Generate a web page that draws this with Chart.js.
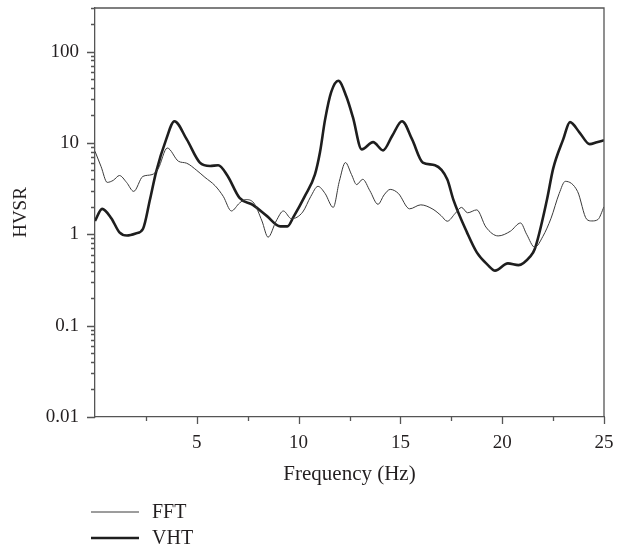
<!DOCTYPE html>
<html>
<head>
<meta charset="utf-8">
<script src="https://cdn.jsdelivr.net/npm/chart.js@4/dist/chart.umd.min.js"></script>
<style>
    html, body { margin: 0; padding: 0; background: #fff; }
    #wrap { width: 624px; height: 554px; }
</style>
</head>
<body>
<div id="wrap"><canvas id="graficoHvsr" width="624" height="554"></canvas></div>
<script>
// datos
const FFT_FREQ = [0, 0.3, 0.6, 0.9, 1.2, 1.55, 1.9, 2.35, 2.8, 3.1, 3.55, 4.1, 4.5, 5.0, 5.4, 5.9, 6.3, 6.7, 7.1, 7.4, 7.8, 8.2, 8.5, 8.9, 9.25, 9.65, 10.2, 10.6, 10.95, 11.3, 11.7, 12.0, 12.3, 12.6, 12.85, 13.15, 13.5, 13.9, 14.2, 14.5, 14.9, 15.45, 16.0, 16.6, 17.0, 17.3, 17.7, 18.0, 18.3, 18.75, 19.2, 19.8, 20.4, 20.9, 21.2, 21.6, 22.0, 22.4, 22.8, 23.1, 23.7, 24.15, 24.4, 24.7, 25.0];
const FFT_HVSR = [8.1, 5.5, 3.7, 3.9, 4.4, 3.7, 2.95, 4.3, 4.5, 5.2, 8.8, 6.3, 6.0, 5.0, 4.2, 3.4, 2.6, 1.8, 2.2, 2.4, 2.2, 1.4, 0.93, 1.4, 1.8, 1.48, 1.75, 2.6, 3.35, 2.8, 1.97, 3.8, 6.1, 4.5, 3.5, 4.0, 3.0, 2.13, 2.7, 3.1, 2.8, 1.9, 2.1, 1.88, 1.6, 1.39, 1.7, 1.97, 1.72, 1.85, 1.2, 0.96, 1.08, 1.33, 1.0, 0.72, 0.95, 1.5, 2.8, 3.8, 2.95, 1.46, 1.4, 1.45, 2.0];

const VHT_FREQ = [0, 0.35, 0.8, 1.2, 1.57, 2.0, 2.36, 2.7, 3.0, 3.5, 3.9, 4.5, 5.15, 5.65, 6.05, 6.5, 7.1, 7.75, 8.45, 9.1, 9.45, 9.75, 10.3, 10.8, 11.05, 11.3, 11.6, 11.95, 12.35, 12.67, 13.1, 13.66, 14.15, 14.6, 15.08, 15.57, 16.1, 16.7, 17.3, 17.6, 18.27, 18.76, 19.3, 19.65, 20.28, 20.8, 21.37, 21.6, 22.2, 22.5, 23.0, 23.33, 23.8, 24.3, 24.65, 25.0];
const VHT_HVSR = [1.4, 1.9, 1.5, 1.05, 0.97, 1.02, 1.15, 2.4, 4.8, 11, 17.3, 11, 6.1, 5.6, 5.7, 4.4, 2.5, 2.1, 1.58, 1.22, 1.22, 1.55, 2.6, 4.5, 7.9, 18, 36, 48, 32, 19, 8.5, 10.2, 8.3, 12, 17.3, 11, 6.1, 5.7, 4.0, 2.4, 1.05, 0.63, 0.46, 0.40, 0.48, 0.46, 0.57, 0.69, 2.4, 5.2, 11, 16.9, 13, 9.7, 10.2, 10.7];

const SERIES_LABELS = ["FFT", "VHT"];
const X_TICKS = [5, 10, 15, 20, 25];
const Y_TICKS = [0.01, 0.1, 1, 10, 100];

const FUENTE = "'Liberation Serif', 'DejaVu Serif', serif";
const COLOR_TEXTO = "#231f20";
const COLOR_EJE = "#555";

function puntos(frecuencias, valores) {
    return frecuencias.map((f, i) => ({ x: f, y: valores[i] }));
}

function sinRelleno(scale) {
    scale.paddingTop = 0;
    scale.paddingBottom = 0;
    scale.paddingLeft = 0;
    scale.paddingRight = 0;
}

// marcas de los ejes, marco y leyenda
const marcasPlugin = {
    id: "marcas",
    afterDraw(chart) {
        const { ctx, chartArea, scales } = chart;
        const x = scales.x;
        const y = scales.y;

        ctx.save();
        ctx.strokeStyle = COLOR_EJE;
        ctx.lineWidth = 1.3;

        ctx.beginPath();
        ctx.moveTo(chartArea.left, chartArea.top);
        ctx.lineTo(chartArea.right, chartArea.top);
        ctx.lineTo(chartArea.right, chartArea.bottom);
        ctx.stroke();

        ctx.beginPath();
        for (let d = 0.01; d <= 100; d *= 10) {
            for (let m = 1; m <= 9; m++) {
                const v = d * m;
                if (v > y.max) continue;
                const py = Math.round(y.getPixelForValue(v)) + 0.5;
                const largo = m === 1 ? 8 : 4;
                ctx.moveTo(chartArea.left - largo, py);
                ctx.lineTo(chartArea.left, py);
            }
        }
        for (let f = 2.5; f <= 25; f += 2.5) {
            const px = Math.round(x.getPixelForValue(f)) + 0.5;
            const largo = f % 5 === 0 ? 7 : 4;
            ctx.moveTo(px, chartArea.bottom);
            ctx.lineTo(px, chartArea.bottom + largo);
        }
        ctx.stroke();

        // leyenda
        const filas = [512, 538];
        chart.data.datasets.forEach((ds, i) => {
            ctx.strokeStyle = ds.borderColor;
            ctx.lineWidth = ds.borderWidth;
            ctx.beginPath();
            ctx.moveTo(91, filas[i]);
            ctx.lineTo(139, filas[i]);
            ctx.stroke();

            ctx.fillStyle = COLOR_TEXTO;
            ctx.font = "20px " + FUENTE;
            ctx.textBaseline = "middle";
            ctx.textAlign = "left";
            ctx.fillText(ds.label, 152, filas[i] + 1);
        });
        ctx.restore();
    }
};

new Chart(document.getElementById("graficoHvsr"), {
    type: "line",
    data: {
        datasets: [
            {
                label: SERIES_LABELS[0],
                data: puntos(FFT_FREQ, FFT_HVSR),
                borderColor: "#3a3a3a",
                borderWidth: 1,
                pointRadius: 0,
                cubicInterpolationMode: "monotone"
            },
            {
                label: SERIES_LABELS[1],
                data: puntos(VHT_FREQ, VHT_HVSR),
                borderColor: "#1e1e1e",
                borderWidth: 2.6,
                pointRadius: 0,
                cubicInterpolationMode: "monotone"
            }
        ]
    },
    options: {
        responsive: false,
        animation: false,
        layout: {
            padding: { left: 0, right: 20, top: 8, bottom: 0 }
        },
        plugins: {
            legend: { display: false },
            tooltip: { enabled: false }
        },
        scales: {
            x: {
                type: "linear",
                min: 0,
                max: 25,
                afterBuildTicks: scale => {
                    scale.ticks = X_TICKS.map(v => ({ value: v }));
                },
                afterFit: scale => {
                    scale.height = 137;
                    sinRelleno(scale);
                },
                grid: { display: false },
                border: { display: true, color: COLOR_EJE, width: 1.3 },
                ticks: {
                    color: COLOR_TEXTO,
                    font: { family: FUENTE, size: 19 },
                    padding: 7,
                    maxRotation: 0
                },
                title: {
                    display: true,
                    text: "Frequency (Hz)",
                    color: COLOR_TEXTO,
                    font: { family: FUENTE, size: 21 },
                    padding: { top: 0, bottom: 67 }
                }
            },
            y: {
                type: "logarithmic",
                min: 0.01,
                max: 300,
                afterBuildTicks: scale => {
                    scale.ticks = Y_TICKS.map(v => ({ value: v }));
                },
                afterFit: scale => {
                    scale.width = 95;
                    sinRelleno(scale);
                },
                grid: { display: false },
                border: { display: true, color: COLOR_EJE, width: 1.3 },
                ticks: {
                    color: COLOR_TEXTO,
                    font: { family: FUENTE, size: 19 },
                    padding: 8,
                    callback: value => String(value)
                },
                title: {
                    display: true,
                    text: "HVSR",
                    color: COLOR_TEXTO,
                    font: { family: FUENTE, size: 19 },
                    padding: { top: 10, bottom: 0 }
                }
            }
        }
    },
    plugins: [marcasPlugin]
});
</script>
</body>
</html>
